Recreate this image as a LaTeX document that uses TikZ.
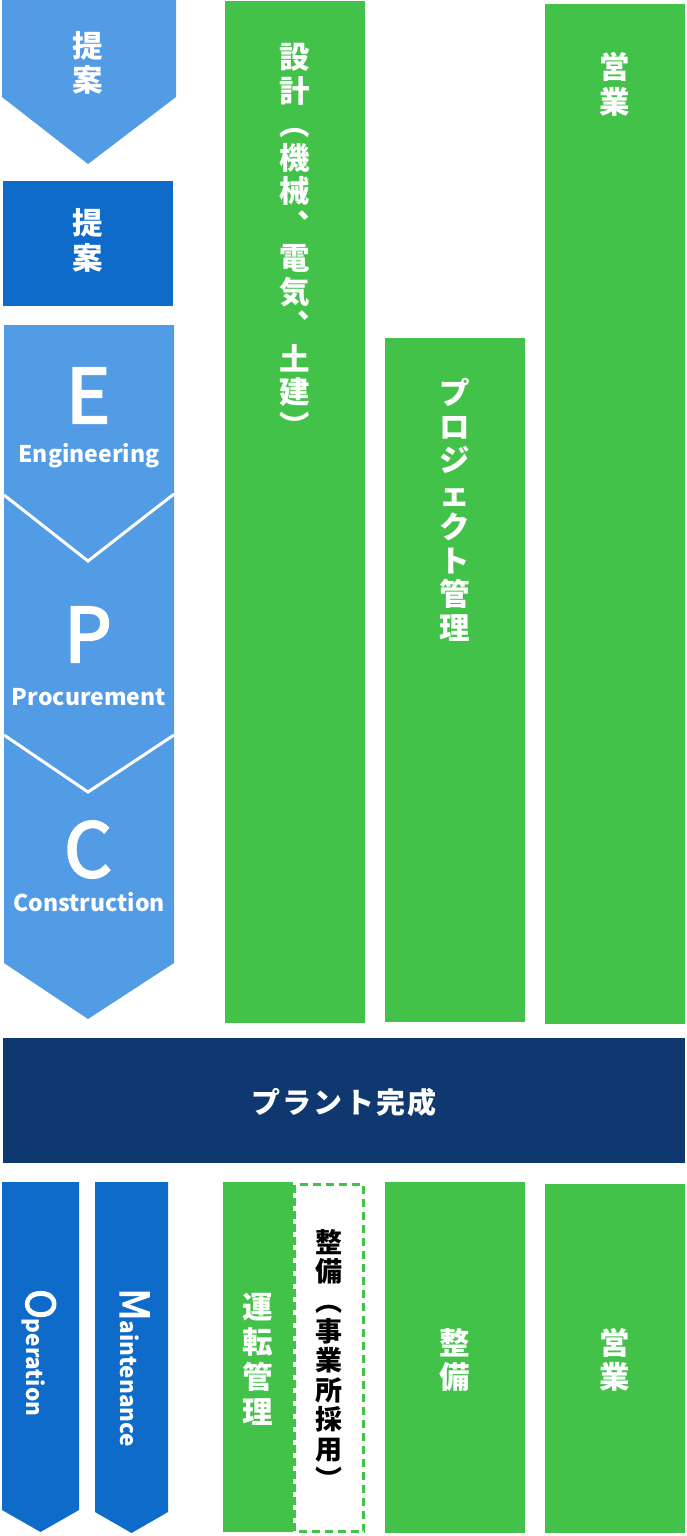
\documentclass[tikz,border=0pt]{standalone}
\usepackage{fontspec}
\setmainfont{Noto Sans CJK JP}
\newfontfamily\medf{Noto Sans CJK JP}[FakeBold=3]
\definecolor{lblue}{HTML}{529BE5}
\definecolor{dblue}{HTML}{0F6BCA}
\definecolor{navy}{HTML}{0F3870}
\definecolor{grn}{HTML}{43C24A}
\newcommand\vtext[6]{\foreach \ch [count=\k from 0] in {#6} {\node[#5] (#1-\k) at ({#2},{#3+\k*#4}) {\ch};}}
\tikzset{
  vj/.style={font=\bfseries\fontsize{30.5}{30.5}\selectfont, text=white, inner sep=0pt, text height=26.8pt, text depth=3.7pt},
  vjs/.style={font=\bfseries\fontsize{27}{27}\selectfont, text=black, inner sep=0pt, text height=23.8pt, text depth=3.2pt},
  bigl/.style={font=\medf\fontsize{75}{75}\selectfont, text=white, inner sep=0pt, anchor=base},
  subl/.style={font=\bfseries\fontsize{23}{23}\selectfont, text=white, inner sep=0pt, anchor=base},
  rotl/.style={text=white, inner sep=0pt, rotate=-90, anchor=base west},
}
\begin{document}
\begin{tikzpicture}[x=1pt,y=-1pt]
\useasboundingbox (0,0) rectangle (686,1536);
% left column shapes
\fill[lblue] (2,0) -- (176,0) -- (176,97) -- (88,164) -- (2,97) -- cycle;
\fill[dblue] (3,181) rectangle (173,306);
\fill[lblue] (4,325) -- (174,325) -- (174,963) -- (88,1019) -- (4,963) -- cycle;
\draw[white, line width=3pt] (4,495) -- (88,561) -- (174,494);
\draw[white, line width=3pt] (4,735) -- (88,792) -- (174,735);
% green columns
\fill[grn] (225,1) rectangle (365,1023);
\fill[grn] (385,338) rectangle (525,1022);
\fill[grn] (545,4) rectangle (685,1024);
% navy band
\fill[navy] (3,1038) rectangle (685,1163);
% bottom
\fill[dblue] (2,1182) -- (79,1182) -- (79,1510) -- (40.5,1532) -- (2,1510) -- cycle;
\fill[dblue] (95,1182) -- (168,1182) -- (168,1512) -- (131.5,1533) -- (95,1512) -- cycle;
\fill[grn] (223,1182) rectangle (293,1532);
\draw[grn, line width=3pt, dash pattern=on 8pt off 5pt, fill=white] (294.5,1184.5) rectangle (363.5,1531.5);
\fill[grn] (385,1182) rectangle (525,1533);
\fill[grn] (545,1184) rectangle (685,1533);
% texts
\vtext{tA}{88}{46}{34}{vj}{提,案}
\vtext{tB}{88}{223}{35}{vj}{提,案}
\node[bigl] (E) at (88,423) {E};
\node[subl] (Eng) at (89,462) {Engineering};
\node[bigl] (P) at (88,662) {P};
\node[subl] (Pro) at (89,705) {Procurement};
\node[bigl] (C) at (88,877) {C};
\node[subl] (Con) at (89,911) {Construction};
\vtext{tD}{295}{57}{33.5}{vj}{設,計,︵,機,械,︑,電,気,︑,土,建,︶}
\vtext{tP}{455}{393}{33.5}{vj}{プ,ロ,ジ,ェ,ク,ト,管,理}
\vtext{tS}{615}{67}{34.5}{vj}{営,業}
\node[font=\bfseries\fontsize{29}{29}\selectfont\addfontfeature{LetterSpace=7}, text=white, inner sep=0pt] (plant) at (344,1102) {プラント完成};
\node[rotl] (op) at (26,1289) {{\medf\fontsize{40}{40}\selectfont O}{\bfseries\fontsize{22.5}{22.5}\selectfont peration}};
\node[rotl] (mt) at (120,1288) {{\medf\fontsize{40}{40}\selectfont M}{\bfseries\fontsize{22.5}{22.5}\selectfont aintenance}};
\vtext{tU}{258}{1307}{35}{vj}{運,転,管,理}
\vtext{tM}{329}{1242}{29.6}{vjs}{整,備,︵,事,業,所,採,用,︶}
\vtext{tR}{455}{1343}{34}{vj}{整,備}
\vtext{tT}{615}{1343}{34}{vj}{営,業}
\end{tikzpicture}
\end{document}
